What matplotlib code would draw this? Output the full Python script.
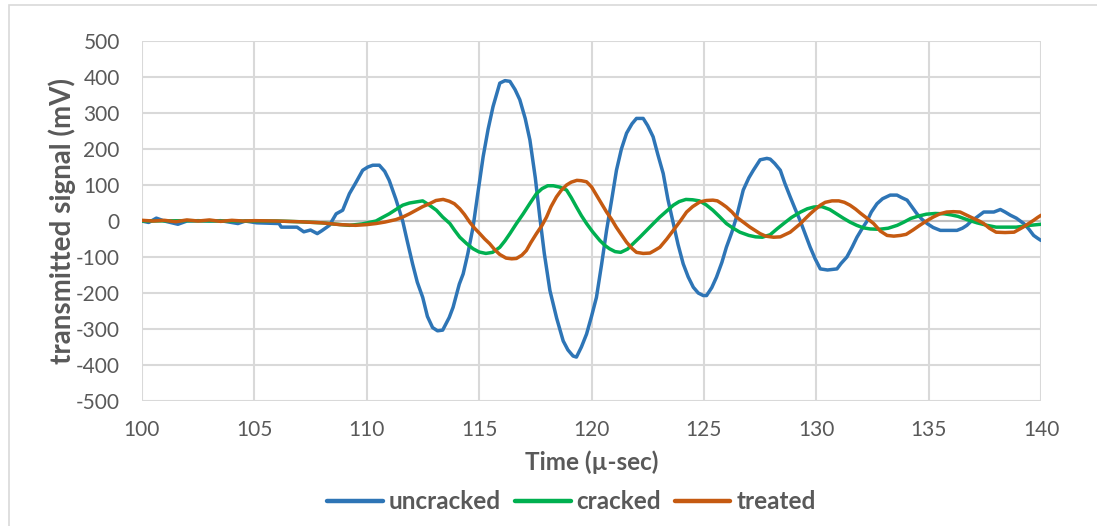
#!/usr/bin/env python3
"""Transmitted ultrasonic signal for uncracked, cracked and treated specimens."""

import matplotlib

matplotlib.use("Agg")
import matplotlib.pyplot as plt
from matplotlib.patches import Rectangle

plt.rcParams["font.family"] = ["Lato", "DejaVu Sans"]
plt.rcParams["axes.unicode_minus"] = False

# uncracked specimen: time (micro-sec) and signal (mV)
uncracked_t = [
    100.0, 100.3, 100.64, 101.0, 101.6, 102.0, 102.5, 103.0, 103.5, 104.27,
    104.6, 105.1, 106.1, 106.2, 106.9, 107.2, 107.5, 107.8, 108.0, 108.34,
    108.64, 108.93, 109.23, 109.5, 109.82, 110.05, 110.27, 110.56, 110.8, 111.0,
    111.3, 111.6, 111.8, 112.04, 112.25, 112.49, 112.7, 112.93, 113.15, 113.38,
    113.67, 113.84, 114.12, 114.29, 114.5, 114.73, 114.95, 115.18, 115.4, 115.62,
    115.92, 116.15, 116.37, 116.6, 116.81, 117.05, 117.26, 117.5, 117.7, 117.9,
    118.15, 118.45, 118.74, 118.95, 119.18, 119.33, 119.55, 119.78, 120.0, 120.22,
    120.45, 120.67, 120.9, 121.11, 121.33, 121.56, 121.8, 122.0, 122.3, 122.5,
    122.74, 122.95, 123.19, 123.4, 123.64, 123.85, 124.08, 124.3, 124.53, 124.75,
    124.97, 125.12, 125.35, 125.56, 125.8, 126.0, 126.25, 126.45, 126.75, 127.0,
    127.2, 127.5, 127.8, 127.95, 128.15, 128.4, 128.6, 128.84, 129.05, 129.29,
    129.5, 129.73, 129.95, 130.18, 130.5, 130.92, 131.1, 131.36, 131.6, 131.81,
    132.05, 132.26, 132.45, 132.7, 132.95, 133.29, 133.59, 133.8, 134.04, 134.25,
    134.48, 134.7, 134.93, 135.2, 135.52, 136.26, 136.5, 136.7, 136.9, 137.15,
    137.45, 137.9, 138.19, 138.4, 138.64, 138.9, 139.23, 139.45, 139.67, 139.85,
    140.0,
]
uncracked_mv = [
    0, -4, 8, 0, -9, 0, 1, 0, 1, -7,
    0, -5, -7, -17, -17, -30, -25, -35, -27, -12,
    20, 30, 76, 105, 141, 150, 155, 155, 138, 113,
    60, 0, -55, -119, -170, -212, -265, -296, -305, -303,
    -268, -240, -175, -147, -90, -17, 80, 179, 255, 318,
    383, 390, 388, 365, 337, 285, 225, 120, 11, -90,
    -193, -270, -333, -358, -375, -378, -350, -314, -265, -212,
    -120, -26, 60, 141, 200, 244, 270, 285, 285, 265,
    234, 185, 132, 60, -7, -65, -119, -155, -184, -200,
    -207, -207, -185, -156, -115, -73, -30, 11, 86, 120,
    141, 170, 174, 172, 160, 141, 105, 67, 35, 0,
    -35, -73, -105, -133, -136, -133, -118, -100, -72, -45,
    -20, 0, 25, 48, 62, 72, 72, 65, 58, 40,
    20, 5, -7, -18, -26, -26, -20, -12, 0, 11,
    25, 25, 32, 25, 16, 8, -7, -22, -40, -48,
    -54,
]

# cracked specimen
cracked_t = [
    100.0, 102.0, 104.0, 106.0, 107.0, 108.0, 108.5, 109.23, 109.8, 110.41,
    110.7, 111.0, 111.3, 111.6, 111.9, 112.19, 112.49, 112.79, 113.1, 113.38,
    113.7, 113.9, 114.14, 114.45, 114.73, 115.0, 115.3, 115.6, 115.92, 116.15,
    116.37, 116.65, 116.96, 117.25, 117.55, 117.8, 118.05, 118.3, 118.6, 118.89,
    119.1, 119.33, 119.55, 119.78, 120.05, 120.37, 120.6, 120.8, 121.05, 121.3,
    121.6, 121.85, 122.15, 122.45, 122.75, 123.04, 123.35, 123.64, 123.9, 124.2,
    124.5, 124.8, 125.1, 125.4, 125.7, 126.0, 126.3, 126.6, 127.0, 127.3,
    127.6, 127.95, 128.25, 128.55, 128.9, 129.3, 129.6, 129.9, 130.25, 130.6,
    130.9, 131.2, 131.5, 131.8, 132.1, 132.4, 132.8, 133.2, 133.6, 133.9,
    134.2, 134.5, 134.9, 135.3, 135.7, 136.0, 136.3, 136.7, 137.15, 137.6,
    138.0, 138.9, 139.5, 140.0,
]
cracked_mv = [
    0, 1, 0, 0, -2, -5, -8, -12, -8, 0,
    10, 20, 32, 44, 50, 53, 56, 44, 30, 11,
    -7, -25, -45, -63, -77, -86, -90, -87, -73, -55,
    -35, -8, 20, 48, 76, 90, 98, 98, 94, 86,
    65, 39, 15, -7, -30, -54, -68, -77, -85, -87,
    -78, -63, -45, -26, -7, 11, 28, 44, 54, 60,
    59, 56, 45, 30, 12, -7, -20, -31, -40, -44,
    -45, -38, -22, -7, 10, 25, 34, 39, 40, 32,
    20, 8, -3, -12, -19, -22, -23, -20, -12, -3,
    7, 13, 19, 21, 20, 17, 13, 4, -5, -12,
    -17, -17, -12, -9,
]

# treated specimen
treated_t = [
    100.0, 100.5, 101.0, 101.5, 102.0, 102.5, 103.0, 103.5, 104.0, 104.5,
    105.0, 106.0, 107.0, 108.0, 108.8, 109.5, 110.0, 110.41, 110.8, 111.3,
    111.6, 111.9, 112.19, 112.49, 112.79, 113.08, 113.4, 113.67, 113.9, 114.14,
    114.35, 114.58, 114.8, 115.03, 115.25, 115.47, 115.7, 115.92, 116.2, 116.45,
    116.66, 116.9, 117.1, 117.3, 117.55, 117.8, 118.0, 118.2, 118.44, 118.65,
    118.89, 119.1, 119.35, 119.55, 119.78, 120.0, 120.22, 120.45, 120.67, 120.9,
    121.1, 121.35, 121.56, 121.8, 122.0, 122.3, 122.6, 122.8, 123.04, 123.35,
    123.64, 123.95, 124.23, 124.5, 124.82, 125.1, 125.4, 125.6, 125.8, 126.0,
    126.25, 126.45, 126.75, 127.05, 127.3, 127.5, 127.75, 128.1, 128.4, 128.6,
    128.84, 129.05, 129.3, 129.5, 129.73, 129.95, 130.18, 130.4, 130.7, 131.0,
    131.25, 131.5, 131.75, 131.96, 132.25, 132.55, 132.85, 133.15, 133.45, 133.75,
    134.0, 134.3, 134.6, 134.9, 135.2, 135.5, 135.8, 136.1, 136.4, 136.7,
    137.0, 137.25, 137.45, 137.7, 138.0, 138.4, 138.8, 139.0, 139.2, 139.45,
    139.67, 139.85, 140.0,
]
treated_mv = [
    2, 0, 2, -2, 3, 0, 3, -1, 2, 0,
    1, 0, -2, -5, -10, -12, -10, -7, -3, 4,
    11, 20, 30, 40, 48, 57, 60, 55, 48, 34,
    18, -3, -20, -35, -50, -63, -80, -93, -103, -105,
    -104, -95, -82, -60, -35, -12, 11, 40, 67, 85,
    100, 108, 113, 112, 109, 95, 72, 48, 25, 4,
    -17, -40, -59, -76, -87, -90, -89, -82, -73, -50,
    -26, 0, 25, 40, 53, 57, 58, 56, 48, 39,
    25, 11, -3, -17, -27, -35, -42, -45, -44, -38,
    -31, -20, -7, 6, 20, 32, 44, 52, 56, 56,
    52, 44, 33, 22, 8, -7, -28, -40, -42, -40,
    -37, -25, -12, 0, 11, 20, 25, 26, 25, 16,
    7, 0, -7, -20, -31, -32, -31, -24, -17, -7,
    2, 10, 16,
]

x_ticks = [100, 105, 110, 115, 120, 125, 130, 135, 140]
y_ticks = [-500, -400, -300, -200, -100, 0, 100, 200, 300, 400, 500]

TEXT_GREY = "#595959"
GRID_GREY = "#D9D9D9"


def main():
    fig = plt.figure(figsize=(10.97, 5.26), dpi=100)
    ax = fig.add_axes([0.1294, 0.2376, 0.8196, 0.6844])

    # outer chart frame (only top and left edges fall inside the canvas)
    fig.add_artist(Rectangle((9 / 1097, -0.2), 1.2, 1.2 - 5 / 526,
                             transform=fig.transFigure, fill=False,
                             edgecolor=GRID_GREY, linewidth=1.2))

    ax.plot(uncracked_t, uncracked_mv, color="#2E75B6", linewidth=2.5,
            label="uncracked", solid_capstyle="round", zorder=3)
    ax.plot(cracked_t, cracked_mv, color="#00B050", linewidth=2.5,
            label="cracked", solid_capstyle="round", zorder=4)
    ax.plot(treated_t, treated_mv, color="#C55A11", linewidth=2.5,
            label="treated", solid_capstyle="round", zorder=5)

    ax.set_xlim(100, 140)
    ax.set_ylim(-500, 500)
    ax.set_xticks(x_ticks)
    ax.set_yticks(y_ticks)
    ax.grid(True, color=GRID_GREY, linewidth=1.5)
    ax.set_axisbelow(True)
    ax.axhline(0, color="#BFBFBF", linewidth=1.5, zorder=2)
    for side in ax.spines.values():
        side.set_visible(False)

    ax.tick_params(axis="x", length=0, pad=14, labelsize=15, labelcolor=TEXT_GREY)
    ax.tick_params(axis="y", length=0, pad=16, labelsize=15, labelcolor=TEXT_GREY)

    ax.set_xlabel("Time (µ-sec)", fontsize=17.5, fontweight="bold",
                  color=TEXT_GREY, labelpad=7)
    ax.set_ylabel("transmitted signal (mV)", fontsize=20, fontweight="bold",
                  color=TEXT_GREY, labelpad=0)

    leg = fig.legend(loc="center", bbox_to_anchor=(0.521, 0.046), ncol=3,
                     frameon=False, handlelength=2.3, handletextpad=0.25,
                     columnspacing=0.55, prop={"size": 17.5, "weight": "bold"})
    for text in leg.get_texts():
        text.set_color(TEXT_GREY)
    for line in leg.get_lines():
        line.set_linewidth(3.2)

    fig.savefig("out.png", dpi=100)
    plt.close(fig)


if __name__ == "__main__":
    main()
